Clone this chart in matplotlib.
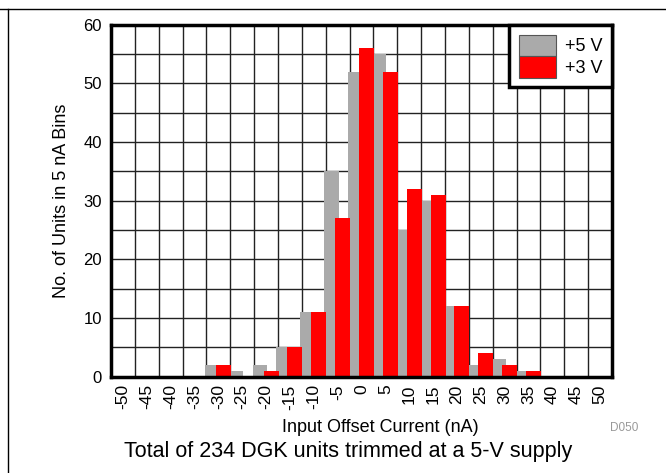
import numpy as np
import matplotlib
matplotlib.use("Agg")
import matplotlib.pyplot as plt
from matplotlib.patches import Patch
from matplotlib.lines import Line2D

plt.rcParams['font.family'] = ['Liberation Sans', 'DejaVu Sans']

# Histogram bins (nA) and unit counts per 5 nA bin
bins = [-50, -45, -40, -35, -30, -25, -20, -15, -10, -5, 0,
        5, 10, 15, 20, 25, 30, 35, 40, 45, 50]
counts_5v = [0, 0, 0, 0, 2, 1, 2, 5, 11, 35, 52,
             55, 25, 30, 12, 2, 3, 1, 0, 0, 0]
counts_3v = [0, 0, 0, 0, 2, 0, 1, 5, 11, 27, 56,
             52, 32, 31, 12, 4, 2, 1, 0, 0, 0]
series_labels = ['+5 V', '+3 V']
tick_labels = [str(b) for b in bins]

GRAY = '#aaaaaa'
RED = '#ff0000'

fig = plt.figure(figsize=(6.66, 4.73), dpi=100)
ax = fig.add_axes([111 / 666, 1 - 376.7 / 473, 501 / 666, 352 / 473])

idx = np.arange(len(bins))
ax.bar(idx - 0.26, counts_5v, width=0.61, color=GRAY, zorder=3)
ax.bar(idx + 0.21, counts_3v, width=0.63, color=RED, zorder=4)

ax.set_xlim(-0.5, len(bins) - 0.5)
ax.set_ylim(0, 60)
ax.set_xticks(idx)
ax.set_xticklabels(tick_labels, rotation=90, fontsize=12.5)
ax.set_xticks(np.arange(-0.5, len(bins), 1), minor=True)
ax.set_yticks(np.arange(0, 61, 10))
ax.set_yticks(np.arange(5, 61, 10), minor=True)
ax.tick_params(axis='both', which='both', length=0)
ax.tick_params(axis='x', which='major', pad=5.5)
ax.tick_params(axis='y', which='major', pad=6.5, labelsize=12)

ax.grid(False)
grid_kw = dict(color='#222222', linewidth=1.0, zorder=1)
ax.xaxis.grid(True, which='minor', **grid_kw)
ax.yaxis.grid(True, which='both', **grid_kw)
ax.set_axisbelow(True)

for sp in ax.spines.values():
    sp.set_linewidth(2.5)
    sp.set_color('black')
    sp.set_zorder(6)

ax.set_xlabel('Input Offset Current (nA)', fontsize=13)
ax.xaxis.set_label_coords((380 - 111) / 501, -(419 - 376.7) / 352)
ax.set_ylabel('No. of Units in 5 nA Bins', fontsize=13, va='center')
ax.yaxis.set_label_coords((62 - 111) / 501, 0.5)

handles = [Patch(facecolor=GRAY, edgecolor='#555555', linewidth=0.8),
           Patch(facecolor=RED, edgecolor='#555555', linewidth=0.8)]
leg = ax.legend(handles, series_labels, loc='upper right', borderaxespad=0,
                fancybox=False, framealpha=1, edgecolor='black', fontsize=13,
                handlelength=2.1, handleheight=1.45, labelspacing=0,
                handletextpad=0.45, borderpad=0.55)
leg.get_frame().set_linewidth(2.5)
leg.set_zorder(7)

fig.text(348 / 666, 1 - 451 / 473, 'Total of 234 DGK units trimmed at a 5-V supply',
         ha='center', va='center', fontsize=15.5)
fig.text(624 / 666, 1 - 428 / 473, 'D050', ha='center', va='center',
         fontsize=8.5, color='#999999')

# page frame rules
fig.add_artist(Line2D([0, 1], [1 - 9 / 473] * 2, transform=fig.transFigure,
                      color='black', linewidth=1))
fig.add_artist(Line2D([7.5 / 666] * 2, [0, 1 - 9 / 473], transform=fig.transFigure,
                      color='black', linewidth=1))

fig.savefig('out.png', dpi=100)
